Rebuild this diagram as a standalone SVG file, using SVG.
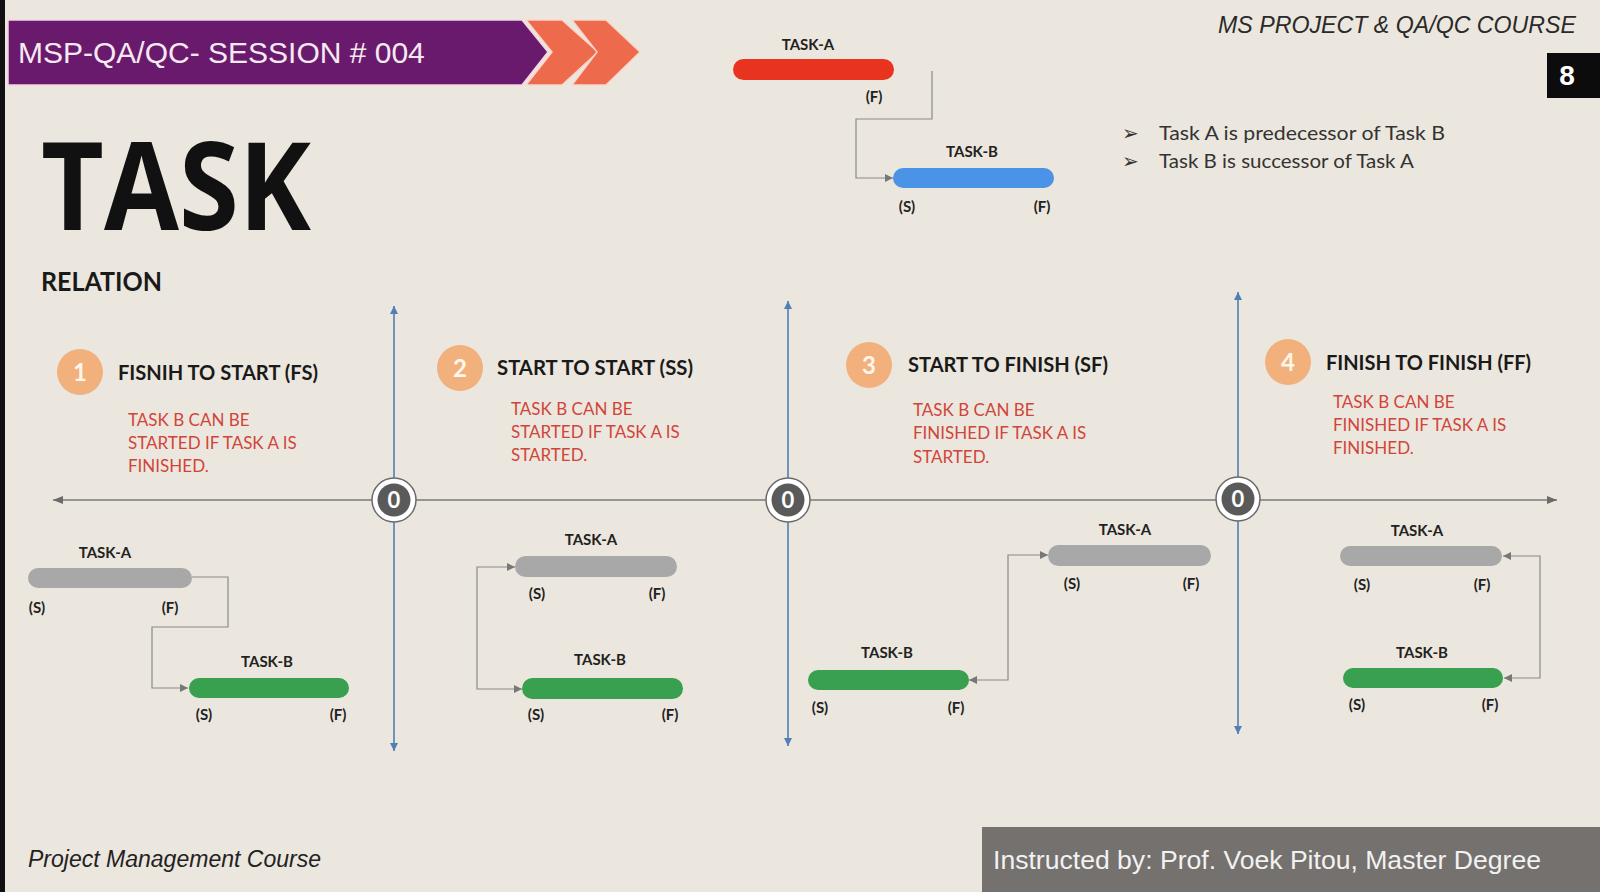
<svg xmlns="http://www.w3.org/2000/svg" width="1600" height="892" viewBox="0 0 1600 892">
<defs>
<style>
.lbl{font-family:Lato,"Open Sans",sans-serif;font-weight:bold;font-size:15px;fill:#222;text-anchor:middle}
.title{font-family:Lato,"Open Sans",sans-serif;font-weight:bold;font-size:21px;fill:#1a1a1a}
.desc{font-family:Lato,"Open Sans",sans-serif;font-size:17px;fill:#d0453a}
.badge{fill:#f2b07c}
.badgeT{font-family:Lato,sans-serif;font-weight:bold;font-size:24px;fill:#fff6ec;text-anchor:middle}
.conn{fill:none;stroke:#8a8a8a;stroke-width:1.2}
.vax{stroke:#4f7fb5;stroke-width:1.6;fill:none}
.hax{stroke:#7a7a7a;stroke-width:1.4;fill:none}
.gray{fill:#a8a8a8}
.green{fill:#38a04f}
.zeroOut{fill:#fff;stroke:#6a6a6a;stroke-width:1.5}
.zeroIn{fill:#5a5a5a}
.zeroT{font-family:Lato,sans-serif;font-weight:bold;font-size:22px;fill:#fff;text-anchor:middle}
</style>
<marker id="arr" viewBox="0 0 10 10" refX="10" refY="5" markerWidth="8" markerHeight="8" markerUnits="userSpaceOnUse" orient="auto-start-reverse"><path d="M0,0 L10,5 L0,10 z" fill="#777"/></marker>
<marker id="arrB" viewBox="0 0 10 10" refX="10" refY="5" markerWidth="8" markerHeight="8" markerUnits="userSpaceOnUse" orient="auto-start-reverse"><path d="M0,0 L10,5 L0,10 z" fill="#4f7fb5"/></marker>
<marker id="arrH" viewBox="0 0 10 10" refX="10" refY="5" markerWidth="10" markerHeight="10" markerUnits="userSpaceOnUse" orient="auto-start-reverse"><path d="M0,1 L10,5 L0,9 z" fill="#6a6a6a"/></marker>
</defs>
<rect x="0" y="0" width="1600" height="892" fill="#ece7de"/>
<rect x="0" y="0" width="5" height="892" fill="#111"/>

<g id="banner">
<polygon points="8,20 522,20 548,52 522,85 8,85" fill="#6a1a6c" stroke="#f3d3e6" stroke-width="1.5"/>
<polygon points="526,20 562,20 598,52 562,85 526,85 552,52" fill="#ee6a4c" stroke="#f8d7cc" stroke-width="1.5"/>
<polygon points="572,20 606,20 640,52 606,85 572,85 597,52" fill="#ee6a4c" stroke="#f8d7cc" stroke-width="1.5"/>
<text x="18" y="63" font-family="Liberation Sans, Arial, sans-serif" font-size="30" fill="#f6eaf2">MSP-QA/QC- SESSION # 004</text>
</g>

<text x="1218" y="33" font-family="Liberation Sans, Arial, sans-serif" font-style="italic" font-size="23" fill="#2a2a2a" textLength="358" lengthAdjust="spacingAndGlyphs">MS PROJECT &amp; QA/QC COURSE</text>
<g id="page-num">
<rect x="1547" y="53" width="53" height="45" fill="#0c0c0c"/>
<text x="1567" y="85" font-family="Liberation Sans, Arial, sans-serif" font-weight="bold" font-size="28" fill="#fff" text-anchor="middle">8</text>
</g>

<text x="41" y="230" font-family="'Open Sans', Lato, sans-serif" font-weight="bold" font-size="122" fill="#111" textLength="270" lengthAdjust="spacingAndGlyphs">TASK</text>
<text x="41" y="291" font-family="Lato, 'Open Sans', sans-serif" font-weight="bold" font-size="26" fill="#1a1a1a" textLength="121" lengthAdjust="spacingAndGlyphs">RELATION</text>

<g id="bullets" font-family="Lato, 'Open Sans', sans-serif" font-size="20" fill="#333">
<text x="1122" y="140">➢</text>
<text x="1159" y="140" textLength="286" lengthAdjust="spacingAndGlyphs">Task A is predecessor of Task B</text>
<text x="1122" y="168">➢</text>
<text x="1159" y="168" textLength="255" lengthAdjust="spacingAndGlyphs">Task B is successor of Task A</text>
</g>

<g id="axes">
<line class="hax" x1="53" y1="500" x2="1557" y2="500" marker-start="url(#arrH)" marker-end="url(#arrH)"/>
<line class="vax" x1="394" y1="306" x2="394" y2="751" marker-start="url(#arrB)" marker-end="url(#arrB)"/>
<line class="vax" x1="788" y1="301" x2="788" y2="746" marker-start="url(#arrB)" marker-end="url(#arrB)"/>
<line class="vax" x1="1238" y1="292" x2="1238" y2="734" marker-start="url(#arrB)" marker-end="url(#arrB)"/>
</g>

<g id="connectors">
<path class="conn" d="M932,71 V119 H856 V178 H893" marker-end="url(#arr)"/>
<path class="conn" d="M192,577 H228 V627 H152 V688 H188" marker-end="url(#arr)"/>
<path class="conn" d="M515,567 H477 V689 H522" marker-start="url(#arr)" marker-end="url(#arr)"/>
<path class="conn" d="M969,680 H1008 V555 H1048" marker-start="url(#arr)" marker-end="url(#arr)"/>
<path class="conn" d="M1503,556 H1540 V678 H1504" marker-start="url(#arr)" marker-end="url(#arr)"/>
</g>

<g id="zero-1"><circle class="zeroOut" cx="394" cy="500" r="22"/><circle class="zeroIn" cx="394" cy="500" r="16.5"/><text class="zeroT" x="394" y="508">0</text></g>
<g id="zero-2"><circle class="zeroOut" cx="788" cy="500" r="22"/><circle class="zeroIn" cx="788" cy="500" r="16.5"/><text class="zeroT" x="788" y="508">0</text></g>
<g id="zero-3"><circle class="zeroOut" cx="1238" cy="499" r="22"/><circle class="zeroIn" cx="1238" cy="499" r="16.5"/><text class="zeroT" x="1238" y="507">0</text></g>

<g id="top-task-a">
<text class="lbl" x="808" y="50">TASK-A</text>
<rect x="733" y="59" width="161" height="21" rx="10.5" fill="#e8341f"/>
<text class="lbl" x="874" y="102">(F)</text>
</g>
<g id="top-task-b">
<text class="lbl" x="972" y="157">TASK-B</text>
<rect x="893" y="168" width="161" height="20" rx="10" fill="#4b93e6"/>
<text class="lbl" x="907" y="212">(S)</text>
<text class="lbl" x="1042" y="212">(F)</text>
</g>

<!-- Section 1 -->
<g id="fs-head">
<circle class="badge" cx="80" cy="372" r="23"/><text class="badgeT" x="80" y="381">1</text>
<text class="title" x="118" y="380" textLength="200" lengthAdjust="spacingAndGlyphs">FISNIH TO START (FS)</text>
<text class="desc" x="128" y="426">TASK B CAN BE</text>
<text class="desc" x="128" y="449">STARTED IF TASK A IS</text>
<text class="desc" x="128" y="472">FINISHED.</text>
</g>
<g id="fs-task-a">
<text class="lbl" x="105" y="558">TASK-A</text>
<rect class="gray" x="28" y="568" width="164" height="20" rx="10"/>
<text class="lbl" x="37" y="613">(S)</text>
<text class="lbl" x="170" y="613">(F)</text>
</g>
<g id="fs-task-b">
<text class="lbl" x="267" y="667">TASK-B</text>
<rect class="green" x="189" y="678" width="160" height="20" rx="10"/>
<text class="lbl" x="204" y="720">(S)</text>
<text class="lbl" x="338" y="720">(F)</text>
</g>

<!-- Section 2 -->
<g id="ss-head">
<circle class="badge" cx="460" cy="368" r="23"/><text class="badgeT" x="460" y="377">2</text>
<text class="title" x="497" y="375" textLength="196" lengthAdjust="spacingAndGlyphs">START TO START (SS)</text>
<text class="desc" x="511" y="415">TASK B CAN BE</text>
<text class="desc" x="511" y="438">STARTED IF TASK A IS</text>
<text class="desc" x="511" y="461">STARTED.</text>
</g>
<g id="ss-task-a">
<text class="lbl" x="591" y="545">TASK-A</text>
<rect class="gray" x="515" y="556" width="162" height="21" rx="10.5"/>
<text class="lbl" x="537" y="599">(S)</text>
<text class="lbl" x="657" y="599">(F)</text>
</g>
<g id="ss-task-b">
<text class="lbl" x="600" y="665">TASK-B</text>
<rect class="green" x="522" y="678" width="161" height="21" rx="10.5"/>
<text class="lbl" x="536" y="720">(S)</text>
<text class="lbl" x="670" y="720">(F)</text>
</g>

<!-- Section 3 -->
<g id="sf-head">
<circle class="badge" cx="869" cy="365" r="23"/><text class="badgeT" x="869" y="374">3</text>
<text class="title" x="908" y="372" textLength="200" lengthAdjust="spacingAndGlyphs">START TO FINISH (SF)</text>
<text class="desc" x="913" y="416">TASK B CAN BE</text>
<text class="desc" x="913" y="439">FINISHED IF TASK A IS</text>
<text class="desc" x="913" y="463">STARTED.</text>
</g>
<g id="sf-task-a">
<text class="lbl" x="1125" y="535">TASK-A</text>
<rect class="gray" x="1048" y="545" width="163" height="21" rx="10.5"/>
<text class="lbl" x="1072" y="589">(S)</text>
<text class="lbl" x="1191" y="589">(F)</text>
</g>
<g id="sf-task-b">
<text class="lbl" x="887" y="658">TASK-B</text>
<rect class="green" x="808" y="670" width="161" height="20" rx="10"/>
<text class="lbl" x="820" y="713">(S)</text>
<text class="lbl" x="956" y="713">(F)</text>
</g>

<!-- Section 4 -->
<g id="ff-head">
<circle class="badge" cx="1288" cy="362" r="23"/><text class="badgeT" x="1288" y="371">4</text>
<text class="title" x="1326" y="370" textLength="205" lengthAdjust="spacingAndGlyphs">FINISH TO FINISH (FF)</text>
<text class="desc" x="1333" y="408">TASK B CAN BE</text>
<text class="desc" x="1333" y="431">FINISHED IF TASK A IS</text>
<text class="desc" x="1333" y="454">FINISHED.</text>
</g>
<g id="ff-task-a">
<text class="lbl" x="1417" y="536">TASK-A</text>
<rect class="gray" x="1340" y="546" width="162" height="20" rx="10"/>
<text class="lbl" x="1362" y="590">(S)</text>
<text class="lbl" x="1482" y="590">(F)</text>
</g>
<g id="ff-task-b">
<text class="lbl" x="1422" y="658">TASK-B</text>
<rect class="green" x="1343" y="668" width="160" height="20" rx="10"/>
<text class="lbl" x="1357" y="710">(S)</text>
<text class="lbl" x="1490" y="710">(F)</text>
</g>

<g id="footer">
<text x="28" y="867" font-family="Liberation Sans, Arial, sans-serif" font-style="italic" font-size="23" fill="#222" textLength="293" lengthAdjust="spacingAndGlyphs">Project Management Course</text>
<rect x="982" y="827" width="618" height="65" fill="#75716e"/>
<text x="993" y="869" font-family="Liberation Sans, Arial, sans-serif" font-size="26" fill="#f2f2f2" textLength="548" lengthAdjust="spacingAndGlyphs">Instructed by: Prof. Voek Pitou, Master Degree</text>
</g>
</svg>
